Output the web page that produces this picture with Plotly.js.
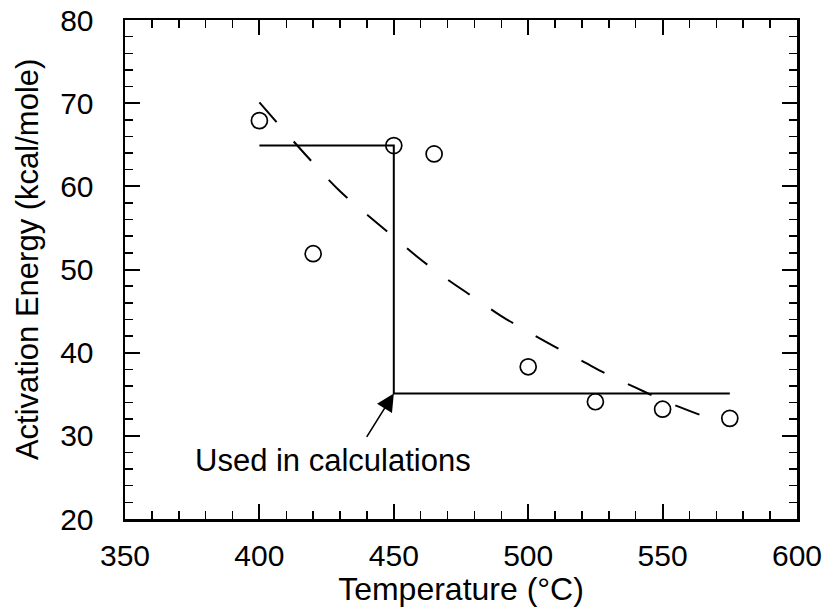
<!DOCTYPE html>
<html>
<head>
<meta charset="utf-8">
<script src="https://cdn.plot.ly/plotly-3.0.1.min.js"></script>
<style>html,body{margin:0;padding:0;background:#fff;}#chart{width:835px;height:608px;}</style>
</head>
<body>
<div id="chart"></div>
<script>
// Measured data points
const tempC = [400, 420, 450, 465, 500, 525, 550, 575];
const activationEnergy = [67.9, 51.9, 64.9, 63.9, 38.3, 34.1, 33.2, 32.1];

// Dashed fitted curve
const fitTemp = [400, 410, 420, 430, 440, 450, 460, 470, 480, 490, 500, 510, 520, 530, 540, 550, 560, 565];
const fitEnergy = [70.1, 66.4, 62.8, 59.4, 56.6, 53.9, 51.2, 48.8, 46.6, 44.4, 42.5, 40.7, 39.0, 37.3, 35.8, 34.3, 33.0, 32.4];

// Step line ("used in calculations")
const stepTemp = [400, 450, 450, 575];
const stepEnergy = [64.9, 64.9, 35.1, 35.1];

// Arrow tip and label
const arrowTip = {x: 450, y: 35.1};
const noteText = 'Used in calculations';

const xTickVals = [350, 400, 450, 500, 550, 600];
const yTickVals = [20, 30, 40, 50, 60, 70, 80];

const FONT = '"Liberation Sans", Arial, Helvetica, sans-serif';

const traces = [
  {x: fitTemp, y: fitEnergy, mode: 'lines', type: 'scatter',
   line: {color: '#000', width: 2, dash: '26px,26px', shape: 'spline'}, hoverinfo: 'skip'},
  {x: stepTemp, y: stepEnergy, mode: 'lines', type: 'scatter',
   line: {color: '#000', width: 2}, hoverinfo: 'skip'},
  {x: tempC, y: activationEnergy, mode: 'markers', type: 'scatter',
   marker: {symbol: 'circle-open', size: 16, color: '#000', line: {color: '#000', width: 1.7}}}
];

const axisCommon = {
  showgrid: false, zeroline: false, showline: true, linecolor: '#000', linewidth: 2.5,
  mirror: 'ticks', ticks: 'inside', ticklen: 15, tickwidth: 2, tickcolor: '#000',
  tickfont: {family: FONT, size: 30, color: '#000'}
};

const layout = {
  width: 835, height: 608,
  margin: {l: 125, r: 38, t: 20, b: 89},
  paper_bgcolor: '#fff', plot_bgcolor: '#fff',
  showlegend: false,
  font: {family: FONT, color: '#000'},
  xaxis: Object.assign({}, axisCommon, {
    range: [350, 600], tickvals: xTickVals, ticktext: xTickVals.map(String),
    minor: {dtick: 10, ticks: 'inside', ticklen: 8, tickwidth: 1.5, tickcolor: '#000', showgrid: false},
    ticklabelstandoff: 8,
    title: {text: 'Temperature (°C)', font: {family: FONT, size: 32, color: '#000'}, standoff: 0}
  }),
  yaxis: Object.assign({}, axisCommon, {
    range: [20, 80], tickvals: yTickVals, ticktext: yTickVals.map(String),
    minor: {dtick: 2, ticks: 'inside', ticklen: 8, tickwidth: 1.5, tickcolor: '#000', showgrid: false},
    ticklabelstandoff: 23
  }),
  annotations: [
    {x: arrowTip.x, y: arrowTip.y, xref: 'x', yref: 'y', text: '', showarrow: true,
     arrowhead: 2, arrowsize: 2.2, arrowwidth: 1.6, arrowcolor: '#000', ax: -28, ay: 45},
    {x: 375.2, y: 27.0, xref: 'x', yref: 'y', text: noteText, showarrow: false,
     xanchor: 'left', yanchor: 'middle', font: {family: FONT, size: 31, color: '#000'}},
    {xref: 'paper', yref: 'paper', x: -0.145, y: 0.52,
     text: 'Activation Energy (kcal/mole)', showarrow: false, textangle: -90,
     xanchor: 'center', yanchor: 'middle', font: {family: FONT, size: 31, color: '#000'}}
  ]
};

Plotly.newPlot('chart', traces, layout, {displayModeBar: false, staticPlot: true});
</script>
</body>
</html>
